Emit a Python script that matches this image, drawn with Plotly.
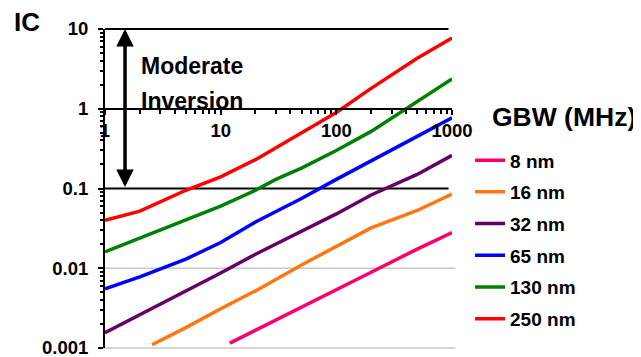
import plotly.graph_objects as go
import math

# GBW (MHz) sample points and IC values
gbw_8 = [12, 20, 50, 100, 200, 500, 1000]
ic_8 = [0.00115, 0.00166, 0.0032, 0.0054, 0.0089, 0.0174, 0.028]

gbw_16 = [2.55, 5, 10, 20, 50, 100, 200, 500, 1000]
ic_16 = [0.0011, 0.0018, 0.0031, 0.0052, 0.011, 0.019, 0.032, 0.053, 0.085]

gbw_32 = [1, 2, 5, 10, 20, 50, 100, 200, 500, 1000]
ic_32 = [0.00155, 0.0026, 0.0051, 0.0087, 0.015, 0.029, 0.048, 0.083, 0.15, 0.26]

gbw_65 = [1, 2, 5, 10, 20, 50, 100, 200, 500, 1000]
ic_65 = [0.0055, 0.0078, 0.013, 0.021, 0.038, 0.075, 0.13, 0.22, 0.45, 0.77]

gbw_130 = [1, 2, 5, 10, 20, 30, 50, 100, 200, 500, 1000]
ic_130 = [0.016, 0.024, 0.04, 0.06, 0.095, 0.13, 0.18, 0.3, 0.52, 1.25, 2.37]

gbw_250 = [1, 2, 5, 10, 20, 50, 100, 200, 500, 1000]
ic_250 = [0.04, 0.052, 0.095, 0.14, 0.23, 0.5, 0.9, 1.8, 4.3, 7.7]

series = [
    ("8 nm", gbw_8, ic_8, "#FF0066"),
    ("16 nm", gbw_16, ic_16, "#FF7711"),
    ("32 nm", gbw_32, ic_32, "#660066"),
    ("65 nm", gbw_65, ic_65, "#0000FF"),
    ("130 nm", gbw_130, ic_130, "#008000"),
    ("250 nm", gbw_250, ic_250, "#FF0000"),
]

x_ticks = [1, 10, 100, 1000]
y_ticks = [10, 1, 0.1, 0.01, 0.001]
ref_levels = [10, 0.1]      # black reference lines (moderate inversion bounds)
grid_levels = [0.01, 0.001]  # light gray gridlines
Y_RANGE = [-3, 1]

FONT = "Liberation Sans, Arial, sans-serif"

fig = go.Figure()
for name, xs, ys, col in series:
    fig.add_trace(go.Scatter(x=xs, y=ys, mode="lines", name=name,
                             legendgroup=name,
                             line=dict(color=col, width=3.5)))


def paper_y(v):
    return (math.log10(v) - Y_RANGE[0]) / (Y_RANGE[1] - Y_RANGE[0])


for yv in grid_levels:
    fig.add_shape(type="line", xref="paper", yref="paper", x0=0, x1=1.01,
                  y0=paper_y(yv), y1=paper_y(yv),
                  line=dict(color="#C8C8C8", width=1.5), layer="below")
for yv in ref_levels:
    fig.add_shape(type="line", xref="paper", yref="paper", x0=0, x1=0.99,
                  y0=paper_y(yv), y1=paper_y(yv),
                  line=dict(color="black", width=2), layer="below")

arrow_x = math.log10(1.49)
fig.add_annotation(x=arrow_x, y=math.log10(ref_levels[0]), ax=arrow_x, ay=math.log10(ref_levels[1]),
                   xref="x", yref="y", axref="x", ayref="y", text="", showarrow=True,
                   arrowhead=2, startarrowhead=2, arrowside="end+start",
                   arrowsize=1, startarrowsize=1, arrowwidth=3.5, arrowcolor="black")

fig.add_annotation(x=0.294, y=0.54, xref="x", yref="y", text="<b>Moderate</b>",
                   showarrow=False, xanchor="left", yanchor="middle",
                   font=dict(family=FONT, size=23, color="black"))
fig.add_annotation(x=0.294, y=0.10, xref="x", yref="y", text="<b>Inversion</b>",
                   showarrow=False, xanchor="left", yanchor="middle",
                   font=dict(family=FONT, size=23, color="black"))
fig.add_annotation(x=-0.268, y=1.022, xref="paper", yref="paper", text="<b>IC</b>",
                   showarrow=False, xanchor="left", yanchor="middle",
                   font=dict(family=FONT, size=26, color="black"))
fig.add_annotation(x=1.1095, y=0.724, xref="paper", yref="paper", text="<b>GBW (MHz)</b>",
                   showarrow=False, xanchor="left", yanchor="middle",
                   font=dict(family=FONT, size=26.5, color="black"))

fig.update_layout(
    width=633, height=349,
    margin=dict(l=97, r=189, t=21, b=9, autoexpand=False),
    paper_bgcolor="white", plot_bgcolor="white",
    font=dict(family=FONT, color="black"),
    showlegend=True,
    legend=dict(x=1.052, y=0.648, xanchor="left", yanchor="top",
                tracegroupgap=4, traceorder="grouped",
                font=dict(family=FONT, size=19, color="black", weight="bold"),
                bgcolor="rgba(0,0,0,0)"),
    xaxis=dict(type="log", range=[0, 3], anchor="free", position=0.75,
               automargin=False,
               tickvals=x_ticks, ticktext=[f"<b>{v}</b>" for v in x_ticks],
               showline=True, linecolor="black", linewidth=2,
               ticks="outside", ticklen=5, tickwidth=1.5, tickcolor="black",
               minor=dict(ticks="outside", dtick="D1", ticklen=4, tickwidth=1.5,
                          tickcolor="black", showgrid=False),
               showgrid=False, zeroline=False, ticklabeloverflow="allow",
               tickfont=dict(family=FONT, size=18.5, color="black")),
    yaxis=dict(type="log", range=Y_RANGE, automargin=False,
               tickvals=y_ticks, ticktext=[f"<b>{v}</b>" for v in y_ticks],
               showline=True, linecolor="black", linewidth=2,
               ticks="outside", ticklen=5, tickwidth=1.5, tickcolor="black",
               ticklabelstandoff=6, ticklabeloverflow="allow",
               minor=dict(ticks="outside", dtick="D1", ticklen=3, tickwidth=1.5,
                          tickcolor="black", showgrid=False),
               showgrid=False, zeroline=False,
               tickfont=dict(family=FONT, size=18.5, color="black")),
)

fig.write_html("out.html")
